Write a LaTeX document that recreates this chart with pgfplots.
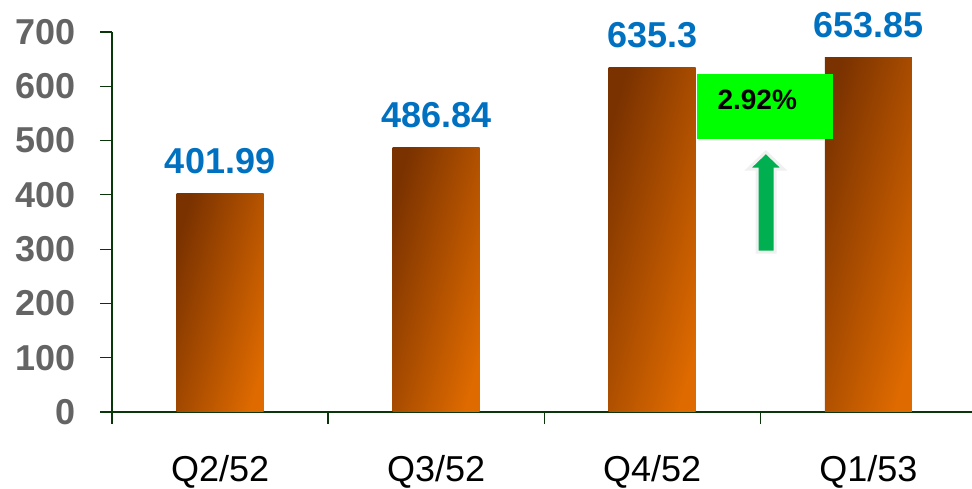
\documentclass[border=0pt]{standalone}
\usepackage{fontspec}
\setmainfont{Liberation Sans}
\usepackage{pgfplots}
\pgfplotsset{compat=1.18}
\definecolor{axcol}{RGB}{10,55,10}
\definecolor{tickgray}{RGB}{100,100,100}
\definecolor{valblue}{RGB}{0,112,192}
\definecolor{bardark}{RGB}{122,50,0}
\definecolor{barlight}{RGB}{222,106,0}
\definecolor{boxgreen}{RGB}{0,255,0}
\definecolor{arrowgreen}{RGB}{0,176,80}
\begin{document}
\begin{tikzpicture}
\path[use as bounding box] (0,0) rectangle (972pt,489pt);
\begin{axis}[
  at={(112pt,77pt)}, anchor=south west,
  scale only axis, width=860pt, height=380pt,
  xmin=-0.5, xmax=3.48, ymin=0, ymax=700,
  axis x line=bottom, axis y line=left,
  axis line style={draw=axcol, line width=1.6pt, -},
  ytick={0,100,...,700},
  xtick={0,1,2,3}, xticklabels={Q2/52,Q3/52,Q4/52,Q1/53},
  minor xtick={-0.5,0.5,1.5,2.5},
  major x tick style={draw=none},
  tick align=outside,
  major tick length=12pt, minor tick length=12pt,
  tick style={draw=axcol, line width=1.2pt},
  /pgf/number format/assume math mode=true,
  yticklabel style={font=\fontsize{36}{40}\selectfont\bfseries, text=tickgray, anchor=east, xshift=-21pt},
  xticklabel style={font=\fontsize{36}{40}\selectfont, text=black, anchor=base, inner sep=0pt, yshift=-58pt},
  clip=false,
  barstyle/.style={ybar, bar width=87pt, bar shift=0pt, draw=none, left color=bardark, right color=barlight, shading angle=74,
    nodes near coords, point meta=explicit symbolic,
    every node near coord/.append style={font=\fontsize{36}{40}\selectfont\bfseries, text=valblue, anchor=base, yshift=20pt}},
]
\addplot[barstyle] coordinates {(0,401.99) [401.99]};
\addplot[barstyle] coordinates {(1,486.84) [486.84]};
\addplot[barstyle] coordinates {(2,635.3) [635.3]};
\addplot[barstyle] coordinates {(3,653.85) [653.85]};
\node[fill=boxgreen, minimum width=136pt, minimum height=65pt, anchor=north west, inner sep=0pt] at (axis cs:2.208,622.6) {};
\node[font=\fontsize{28}{30}\selectfont\bfseries, text=black] at (axis cs:2.486,574.7) {2.92\%};
\filldraw[fill=arrowgreen, draw=gray!12, line width=3pt, line join=miter]
 (axis cs:2.486,294.7) -- (axis cs:2.486,447.6) -- (axis cs:2.444,447.6) -- (axis cs:2.526,478.9)
 -- (axis cs:2.608,447.6) -- (axis cs:2.569,447.6) -- (axis cs:2.569,294.7) -- cycle;
\end{axis}
\end{tikzpicture}
\end{document}
